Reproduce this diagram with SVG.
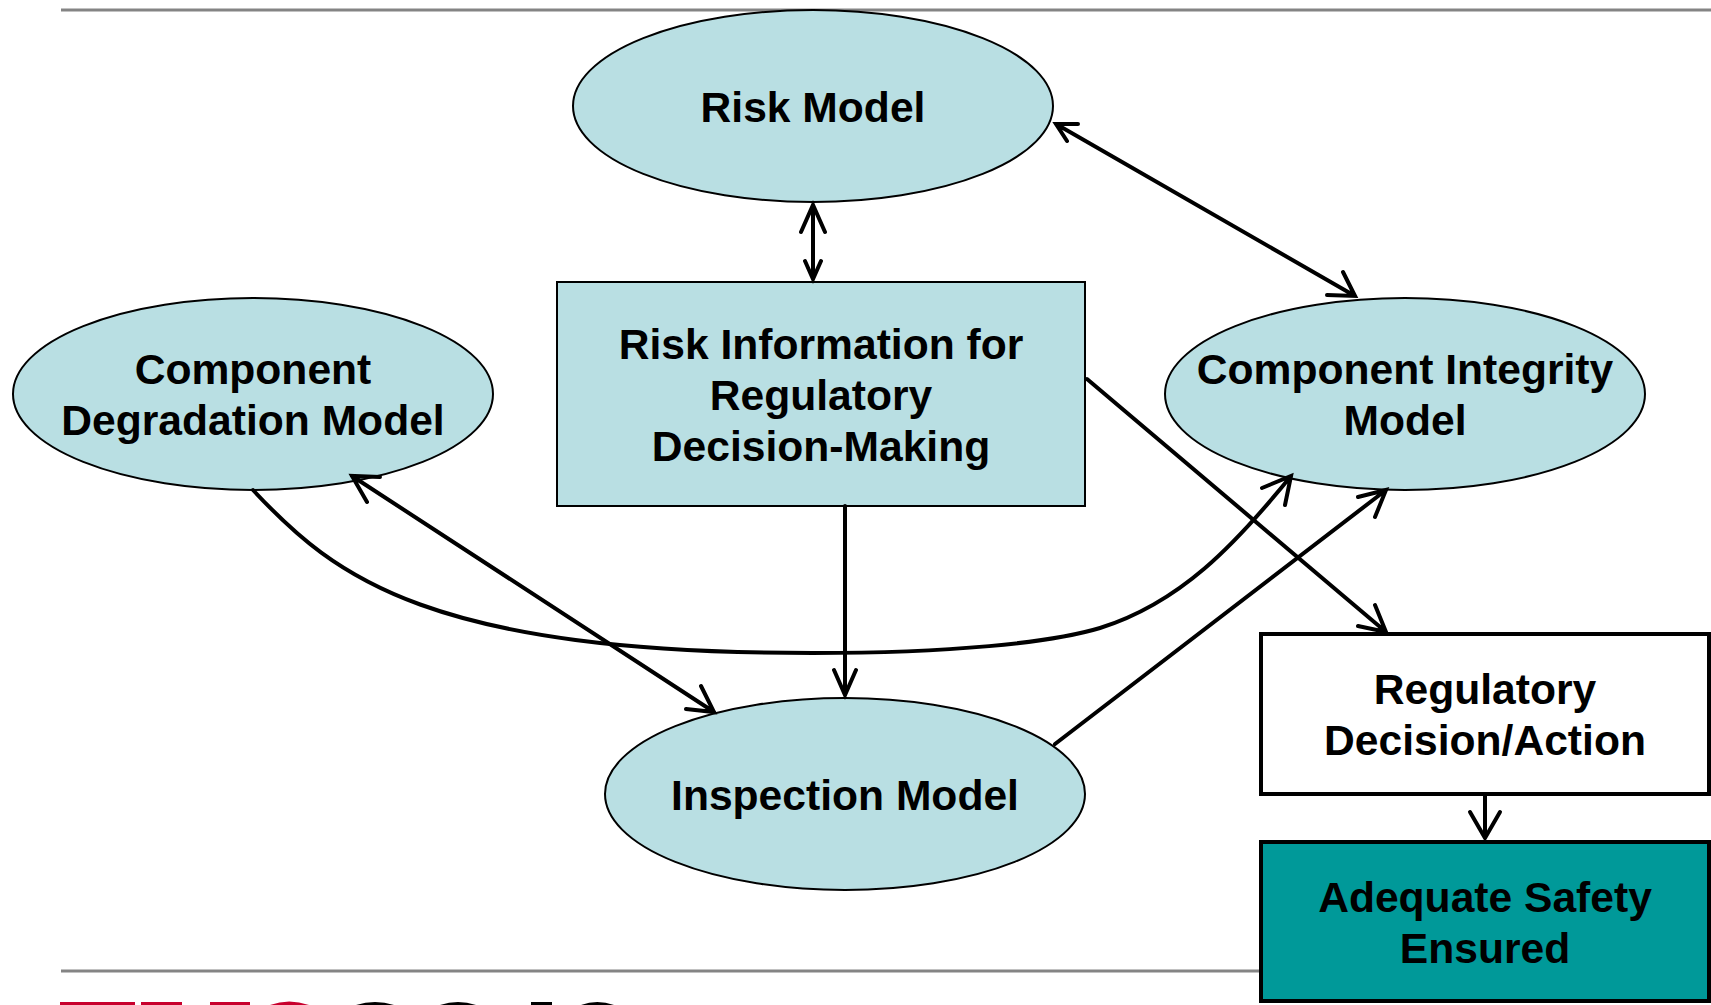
<svg xmlns="http://www.w3.org/2000/svg" width="1711" height="1005" viewBox="0 0 1711 1005">
<style>
.e{fill:#b9dfe3;stroke:#000;stroke-width:2}
.b{stroke:#000;stroke-width:4}
.c{fill:none;stroke:#000;stroke-width:4;stroke-linecap:round;stroke-linejoin:miter}
.r{fill:none;stroke:#848484;stroke-width:3}
text{font-family:"Liberation Sans",Arial,sans-serif;font-weight:700;font-size:42.600px;text-anchor:middle;fill:#000}
</style>
<rect width="1711" height="1005" fill="#fff"/>
<g id="rules">
<line class="r" x1="61" y1="10" x2="1711" y2="10"/>
<line class="r" x1="61" y1="971" x2="1262" y2="971"/>
</g>
<g id="logo-fragment">
<g fill="#c8002d"><rect x="60" y="1002" width="75" height="3"/><rect x="141" y="1002" width="41" height="3"/><rect x="210" y="1002" width="40" height="3"/><path d="M270 1005Q289 998 309 1005Z"/></g>
<g fill="#000"><path d="M356 1005Q375 999 394 1005Z"/><path d="M440 1005Q458 999 476 1005Z"/><rect x="531" y="1002" width="21" height="3"/><path d="M581 1005Q597 999 614 1005Z"/></g>
</g>
<g id="risk-model"><ellipse class="e" cx="813" cy="106" rx="240" ry="96"/><text x="813" y="122">Risk Model</text></g>
<g id="degradation"><ellipse class="e" cx="253" cy="394" rx="240" ry="96"/><text x="253" y="384">Component</text><text x="253" y="435">Degradation Model</text></g>
<g id="integrity"><ellipse class="e" cx="1405" cy="394" rx="240" ry="96"/><text x="1405" y="384">Component Integrity</text><text x="1405" y="435">Model</text></g>
<g id="inspection"><ellipse class="e" cx="845" cy="794" rx="240" ry="96"/><text x="845" y="810">Inspection Model</text></g>
<g id="risk-info"><rect class="e" x="557" y="282" width="528" height="224"/><text x="821" y="359">Risk Information for</text><text x="821" y="410">Regulatory</text><text x="821" y="461">Decision-Making</text></g>
<g id="decision"><rect x="1261" y="634" width="448" height="160" fill="#fff" class="b"/><text x="1485" y="704">Regulatory</text><text x="1485" y="755">Decision/Action</text></g>
<g id="safety"><rect x="1261" y="842" width="448" height="159" fill="#009999" class="b"/><text x="1485" y="912">Adequate Safety</text><text x="1485" y="963">Ensured</text></g>
<g id="connectors">
<path class="c" d="M813 205V279M801 232L813 205L825 232M805 261L813 279L821 261"/>
<path class="c" d="M1056 124L1355 296M1067 141L1056 124L1078 124M1327 295L1355 296L1343 272"/>
<path class="c" d="M1087 379L1386 632M1358 626L1386 632L1375 605"/>
<path class="c" d="M1055 744L1386 490M1358 497L1386 490L1375 517"/>
<path class="c" d="M845 506V695M834 670L845 695L856 670"/>
<path class="c" d="M1485 794V838M1470 812L1485 838L1500 812"/>
<path class="c" d="M352 476L714 712M367 502L352 476L380 477M686 709L714 712L701 686"/>
<path class="c" d="M253 490C335 578 430 653 813 653C950 653 1050 643 1100 628C1180 603 1235 545 1291 476M1262 488L1291 476L1285 505"/>
</g>
</svg>
